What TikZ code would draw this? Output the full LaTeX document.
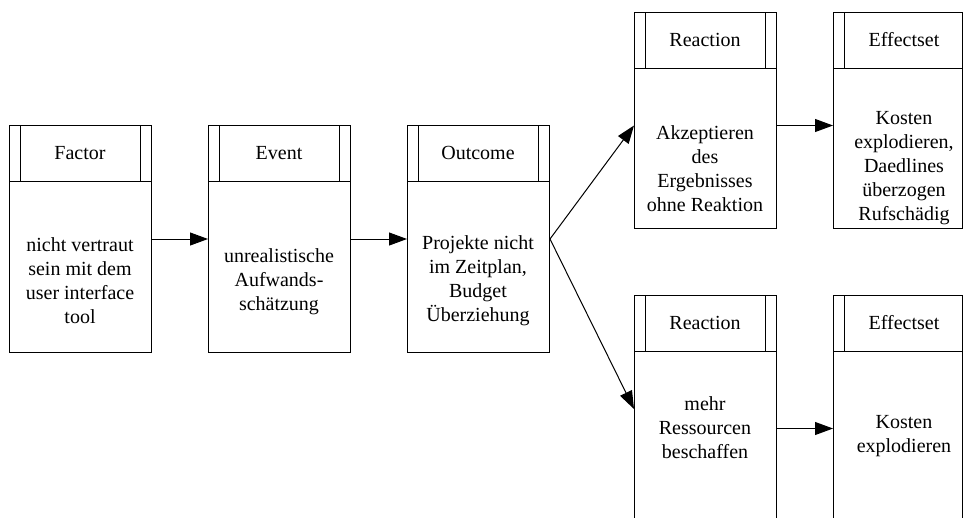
\documentclass[tikz,border=0pt]{standalone}
\usepackage{fontspec}
\setmainfont{Liberation Serif}
\newfontfamily\timesfont{Liberation Serif}
\usetikzlibrary{arrows.meta}
\newcommand\boxhead[2]{%
  \draw[edge] ([yshift=-56pt]#1.north west) -- ([yshift=-56pt]#1.north east);
  \draw[edge] ([xshift=11.5pt]#1.north west) -- ([xshift=11.5pt,yshift=-56pt]#1.north west);
  \ifx#2y\draw[edge] ([xshift=-11.5pt]#1.north east) -- ([xshift=-11.5pt,yshift=-56pt]#1.north east);\fi
}
\begin{document}
\begin{tikzpicture}[x=1pt,y=-1pt,
  edge/.style={line width=1pt},
  boxshape/.style={draw, line width=1pt, rectangle, inner sep=0pt, minimum width=142pt, minimum height=227pt, anchor=north west},
  lbl/.style={font=\timesfont\fontsize{20}{24}\selectfont, align=center, inner sep=0pt},
  arr/.style={line width=1pt, -{Triangle[length=18pt,width=13pt]}}
]
\useasboundingbox (0,0) rectangle (964,517);
\clip (0,0) rectangle (964,517);
% boxes
\node[boxshape] (factor) at (9,125) {};
\node[boxshape] (event) at (208,125) {};
\node[boxshape] (outcome) at (407,125) {};
\node[boxshape, minimum height=216pt] (reactA) at (634,12) {};
\node[boxshape, minimum height=216pt, minimum width=129pt] (effA) at (833,12) {};
\node[boxshape] (reactB) at (634,295) {};
\node[boxshape, minimum width=129pt] (effB) at (833,295) {};
\boxhead{factor}{y}
\boxhead{event}{y}
\boxhead{outcome}{y}
\boxhead{reactA}{y}
\boxhead{effA}{n}
\boxhead{reactB}{y}
\boxhead{effB}{n}
% headers
\node[lbl] (factorH) at (80,153) {Factor};
\node[lbl] (eventH) at (279,153) {Event};
\node[lbl] (outcomeH) at (478,153) {Outcome};
\node[lbl] (reactAH) at (705,40) {Reaction};
\node[lbl] (effAH) at (904,40) {Effectset};
\node[lbl] (reactBH) at (705,323) {Reaction};
\node[lbl] (effBH) at (904,323) {Effectset};
% bodies
\node[lbl] (factorT) at (80,281) {nicht vertraut\\sein mit dem\\user interface\\tool};
\node[lbl] (eventT) at (279,282) {unrealistische\\Aufwands-\\schätzung};
\node[lbl] (outcomeT) at (478,281) {Projekte nicht\\im Zeitplan,\\Budget\\Überziehung};
\node[lbl] (reactAT) at (705,169) {Akzeptieren\\des\\Ergebnisses\\ohne Reaktion};
\node[lbl] (effAT) at (904,168) {Kosten\\explodieren,\\Daedlines\\überzogen\\Rufschädig};
\node[lbl] (reactBT) at (705,428) {mehr\\Ressourcen\\beschaffen};
\node[lbl] (effBT) at (904,436) {Kosten\\explodieren};
% connectors
\draw[arr] (factor.east) -- (event.west);
\draw[arr] (event.east) -- (outcome.west);
\draw[arr] (outcome.east) -- ([yshift=-5pt]reactA.west);
\draw[arr] (outcome.east) -- (reactB.west);
\draw[arr] ([yshift=-5pt]reactA.east) -- ([yshift=-5pt]effA.west);
\draw[arr] ([yshift=-19.5pt]reactB.east) -- ([yshift=-19.5pt]effB.west);
\end{tikzpicture}
\end{document}
